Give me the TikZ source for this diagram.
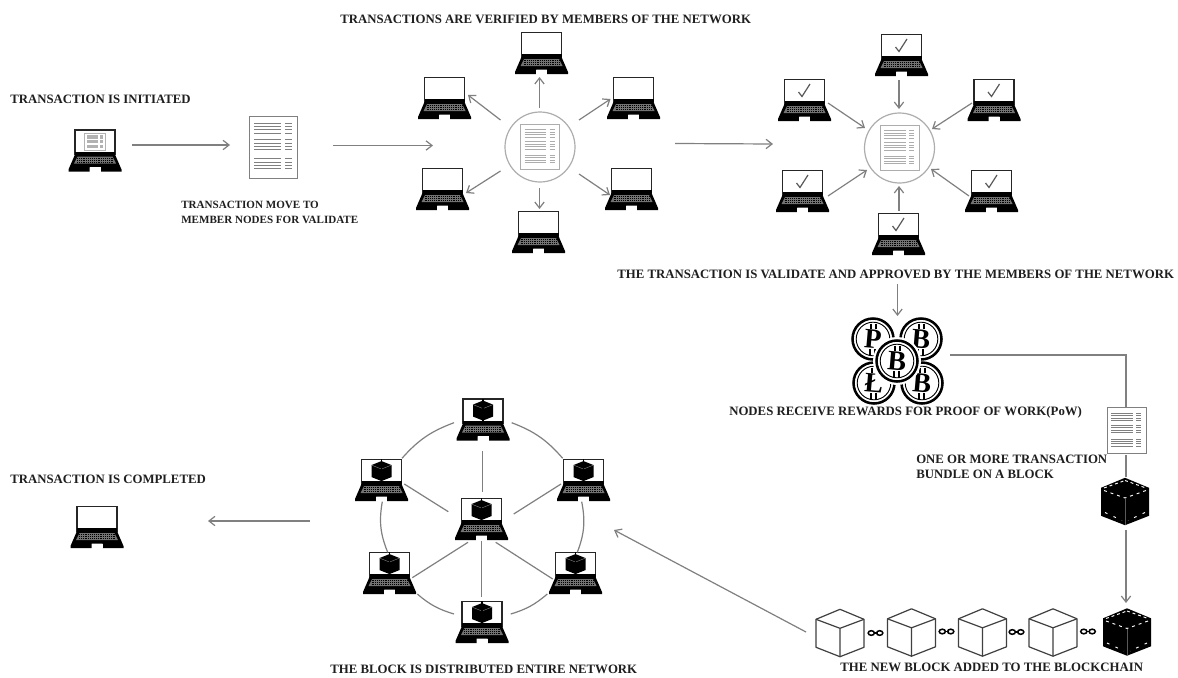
\documentclass[tikz,border=0pt]{standalone}
\usepackage{fontspec}
\setmainfont{Liberation Serif}
\usetikzlibrary{arrows.meta}
\definecolor{lnk}{gray}{0.5}
\definecolor{hubg}{gray}{0.68}
\tikzset{
  lab/.style={anchor=west,inner sep=0pt,text=black!88,font=\bfseries\fontsize{9.6}{11.25}\selectfont,align=left},
  labsmall/.style={lab,font=\bfseries\fontsize{8.3}{11.25}\selectfont},
  arr/.style={draw=lnk,line width=0.9pt,-{Straight Barb[length=4.5pt,width=7pt]}},
  plainln/.style={draw=lnk,line width=0.9pt},
  lapbox/.style={minimum width=40pt,minimum height=32pt,inner sep=0pt},
  hubnode/.style={circle,draw=hubg,line width=0.9pt,minimum size=52.5pt,inner sep=0pt},
  pics/laptop/.style={code={
    \draw[fill=white,draw=black!85,line width=1.1pt] (-20,-20.5) rectangle (20,4);
    \fill[black] (-20,1) rectangle (20,4);
    \fill[black] (-20,4) -- (20,4) -- (26.5,19) -- (26.5,21) -- (5.5,21) -- (5.5,16.5) -- (-5.5,16.5) -- (-5.5,21) -- (-26.5,21) -- (-26.5,19) -- cycle;
    \fill[white] (-5.5,16.5) rectangle (5.5,21);
    \fill[black!55] (-17.5,6) -- (17.5,6) -- (21,13) -- (-21,13) -- cycle;
    \foreach \yy in {7.5,9.5,11.5}{\draw[black,line width=0.3pt,dash pattern=on 0.7pt off 0.7pt] (-18,\yy) -- (18,\yy);}
  }},
  pics/tick/.style={code={
    \draw[black!65,line width=0.9pt] (-6,-8) -- (-2.5,-3.5) -- (5.5,-16);
  }},
  pics/docpage/.style={code={
    \draw[fill=white,draw=#1,line width=0.65pt] (-24,-31) rectangle (24,31);
    \foreach \g in {-24,-7.5,11.5}{
      \foreach \k in {0,3.4,6.8,10.2}{
        \draw[#1,line width=0.55pt] (-19,\g+\k) -- (7.5,\g+\k);
        \draw[#1,line width=0.55pt] (12,\g+\k) -- (18.5,\g+\k);
      }
    }
  }},
  pics/cubeopen/.style={code={
    \draw[fill=white,draw=black!75,line width=0.9pt,line join=round] (0,-23.7) -- (24,-13.7) -- (24,14.3) -- (0,23.7) -- (-24,14.3) -- (-24,-13.7) -- cycle;
    \draw[black!75,line width=0.9pt,line join=round] (-24,-13.7) -- (0,-4.7) -- (24,-13.7) (0,-4.7) -- (0,23.7);
  }},
  pics/cubeblack/.style={code={
    \fill[black] (0,-23.7) -- (24,-13.7) -- (24,14.3) -- (0,23.7) -- (-24,14.3) -- (-24,-13.7) -- cycle;
    \draw[white,line width=0.7pt,dash pattern=on 2.2pt off 2.2pt] (0,-21) -- (21,-13.5) (-21,-13.5) -- (0,-21);
    \draw[white,line width=0.7pt,dash pattern=on 2.2pt off 3pt] (-21,-11) -- (0,-3.5) -- (21,-11);
    \draw[black!65,line width=0.4pt] (0,-3) -- (0,23);
    \draw[white,line width=0.7pt,dash pattern=on 2pt off 5pt] (-20,11) -- (-3,19) (20,11) -- (3,19);
  }},
  pics/cubemini/.style={code={
    \fill[black] (0,-10) -- (10,-6) -- (10,6) -- (0,10) -- (-10,6) -- (-10,-6) -- cycle;
    \draw[black!45,line width=0.3pt] (-10,-6) -- (0,-2) -- (10,-6) (0,-2) -- (0,10);
    \draw[black,line width=1pt] (0,-12) -- (0,12);
  }},
  pics/chainlink/.style={code={
    \draw[black,line width=1.15pt] (-4.2,0) ellipse (3.1 and 2.3);
    \draw[black,line width=1.15pt] (4.2,0) ellipse (3.1 and 2.3);
    \draw[black,line width=1.15pt] (-2,0) -- (2,0);
  }},
  pics/coin/.style={code={
    \draw[fill=white,draw=black,line width=1.9pt] (0,0) circle (20.5);
    \draw[black,line width=0.7pt] (0,0) circle (16.8);
    \node[font=\bfseries\fontsize{21}{21}\selectfont,inner sep=0pt,rotate=-5] at (0,0) {#1};
    \draw[black,line width=1.3pt] (-2,-15.5) -- (-2,-10) (3,-15.5) -- (3,-10) (-3,10) -- (-3,15.5) (2,10) -- (2,15.5);
  }}
}
\begin{document}
\begin{tikzpicture}[x=0.75pt,y=-0.75pt]
\useasboundingbox[fill=white] (0,0) rectangle (1178,678);

% ---------- labels
\node[lab] (t1) at (10,99.5) {TRANSACTION IS INITIATED};
\node[lab] (t2) at (340,19) {TRANSACTIONS ARE VERIFIED BY MEMBERS OF THE NETWORK};
\node[labsmall] (t3) at (181,212.5) {TRANSACTION MOVE TO\\MEMBER NODES FOR VALIDATE};
\node[lab] (t4) at (617,274.5) {THE TRANSACTION IS VALIDATE AND APPROVED BY THE MEMBERS OF THE NETWORK};
\node[lab] (t5) at (729,412) {NODES RECEIVE REWARDS FOR PROOF OF WORK(PoW)};
\node[lab] (t6) at (916,466.5) {ONE OR MORE TRANSACTION\\BUNDLE ON A BLOCK};
\node[lab] (t7) at (10,479) {TRANSACTION IS COMPLETED};
\node[lab] (t8) at (330,669) {THE BLOCK IS DISTRIBUTED ENTIRE NETWORK};
\node[lab] (t9) at (840,667) {THE NEW BLOCK ADDED TO THE BLOCKCHAIN};

% ---------- start and first page
\node[lapbox] (start) at (95,150.5) {};
\pic at (start) {laptop};
\pic[xscale=0.42,yscale=0.27] at (95,142) {docpage={black!30}};
\node[lapbox,minimum width=36pt,minimum height=46.5pt] (page) at (273,147) {};
\pic at (page) {docpage={black!50}};

% ---------- verifying hub
\node[hubnode] (h1) at (540,147) {};
\pic[xscale=0.81,yscale=0.72] at (h1) {docpage={hubg}};
\foreach \n/\x/\y in {a1/541.5/53,a2/444.5/98,a3/633.5/98,a4/442.5/189,a5/631.5/189,a6/538.5/232}{
  \node[lapbox] (\n) at (\x,\y) {};
  \pic at (\n) {laptop};
}

% ---------- approving hub
\node[hubnode] (h2) at (899.5,148) {};
\pic[xscale=0.81,yscale=0.72] at (h2) {docpage={hubg}};
\foreach \n/\x/\y in {b1/901.5/55,b2/804.5/100,b3/994/100,b4/802.5/191,b5/991.5/191,b6/898.5/234}{
  \node[lapbox] (\n) at (\x,\y) {};
  \pic at (\n) {laptop};
  \pic at (\n) {tick};
}

% ---------- coins
\foreach \n/\x/\y/\g in {c1/873/339/P,c2/921/339/B,c3/874/383/Ł,c4/922/383/B}{
  \node[inner sep=0pt,minimum size=31.5pt,circle] (\n) at (\x,\y) {};
  \pic at (\n) {coin={\g}};
}
\node[inner sep=0pt,minimum size=31.5pt,circle] (c0) at (897,361) {};
\fill[white] (897,361) circle (24);
\pic at (c0) {coin={B}};

% ---------- right column
\node[lapbox,minimum width=29pt,minimum height=34pt] (bundle) at (1126.5,430.5) {};
\pic[xscale=0.81,yscale=0.73] at (bundle) {docpage={black!50}};
\node[lapbox,minimum width=36pt,minimum height=36pt] (newblock) at (1125,501.5) {};
\pic at (newblock) {cubeblack};

% ---------- chain of blocks
\foreach \n/\x/\y in {k1/840/633,k2/911.5/632.5,k3/982.5/632.5,k4/1053/632.5}{
  \node[lapbox,minimum width=36pt,minimum height=36pt] (\n) at (\x,\y) {};
  \pic at (\n) {cubeopen};
}
\node[lapbox,minimum width=36pt,minimum height=36pt] (k5) at (1127,632) {};
\pic at (k5) {cubeblack};
\foreach \n/\x/\y in {q1/875.5/633,q2/946.5/631.5,q3/1016.5/632,q4/1088/631.5}{
  \node[inner sep=0pt,minimum size=8pt] (\n) at (\x,\y) {};
  \pic at (\n) {chainlink};
}

% ---------- distributed network
\foreach \n/\x/\y in {d1/483/419.5,d2/381.5/480,d3/583.5/480,d0/481.5/519,d4/389.5/573,d5/575.5/573,d6/482/622}{
  \node[lapbox] (\n) at (\x,\y) {};
  \pic at (\n) {laptop};
  \pic[yshift=6.7pt] at (\n) {cubemini};
}

% ---------- end laptop
\node[lapbox] (finish) at (97,527) {};
\pic at (finish) {laptop};

% ---------- connector end points
\foreach \n/\x/\y in {
 s1/132/145,s2/230/145,s3/333/145.5,s4/433/145.5,s5/675/143.5,s6/773/144,
 u1/539.5/108,u2/539.5/77,u3/500.5/120,u4/468/95,u5/579/120,u6/610.5/99,
 u7/500.5/171,u8/466/193,u9/579/174,u10/610/195,u11/539.5/188,u12/539.5/209,
 v1/899/80,v2/899/109,v3/828/103,v4/865/128,v5/972/103,v6/932/129,
 v7/828/196,v8/867/170,v9/969/196,v10/931/169,v11/899/211,v12/899/186,
 w1/897.5/284,w2/897.5/316,w3/950/355,w4/1126/355,w5/1126/408,w6/1126/455,w7/1126/477,w8/1126/530,w9/1126/603,
 x1/806/632,x2/614/530,x3/310/521,x4/208/521,
 n1/482.3/451,n2/482.3/491.7,n3/404.3/484,n4/448.3/511.7,n5/561/484,n6/513.7/514,
 n7/468/542.3,n8/412.3/577.7,n9/495.7/542.3,n10/552.7/579,n11/481.3/540.7,n12/481.3/597.3,
 r1/454/422.7,r2/402/458.3,r3/511.7/422.7,r4/562.7/458.3,r5/382.3/501.7,r6/387.7/552.3,
 r7/581.7/501.7,r8/577.3/552.3,r9/417.3/594,r10/454/614,r11/547.3/594,r12/510.7/614}{
  \coordinate (\n) at (\x,\y);
}

% ---------- connectors
\draw[arr] (s1) -- (s2);
\draw[arr] (s3) -- (s4);
\draw[arr] (s5) -- (s6);
\draw[arr] (u1) -- (u2);
\draw[arr] (u3) -- (u4);
\draw[arr] (u5) -- (u6);
\draw[arr] (u7) -- (u8);
\draw[arr] (u9) -- (u10);
\draw[arr] (u11) -- (u12);
\draw[arr] (v1) -- (v2);
\draw[arr] (v3) -- (v4);
\draw[arr] (v5) -- (v6);
\draw[arr] (v7) -- (v8);
\draw[arr] (v9) -- (v10);
\draw[arr] (v11) -- (v12);
\draw[arr] (w1) -- (w2);
\draw[plainln] (w3) -- (w4) -- (w5);
\draw[plainln] (w6) -- (w7);
\draw[arr] (w8) -- (w9);
\draw[arr] (x1) -- (x2);
\draw[arr] (x3) -- (x4);
\draw[plainln] (n1) -- (n2);
\draw[plainln] (n3) -- (n4);
\draw[plainln] (n5) -- (n6);
\draw[plainln] (n7) -- (n8);
\draw[plainln] (n9) -- (n10);
\draw[plainln] (n11) -- (n12);
\draw[plainln] (r1) to[bend right=14] (r2);
\draw[plainln] (r3) to[bend left=14] (r4);
\draw[plainln] (r5) to[bend right=16] (r6);
\draw[plainln] (r7) to[bend left=16] (r8);
\draw[plainln] (r9) to[bend right=12] (r10);
\draw[plainln] (r11) to[bend left=12] (r12);
\end{tikzpicture}
\end{document}
